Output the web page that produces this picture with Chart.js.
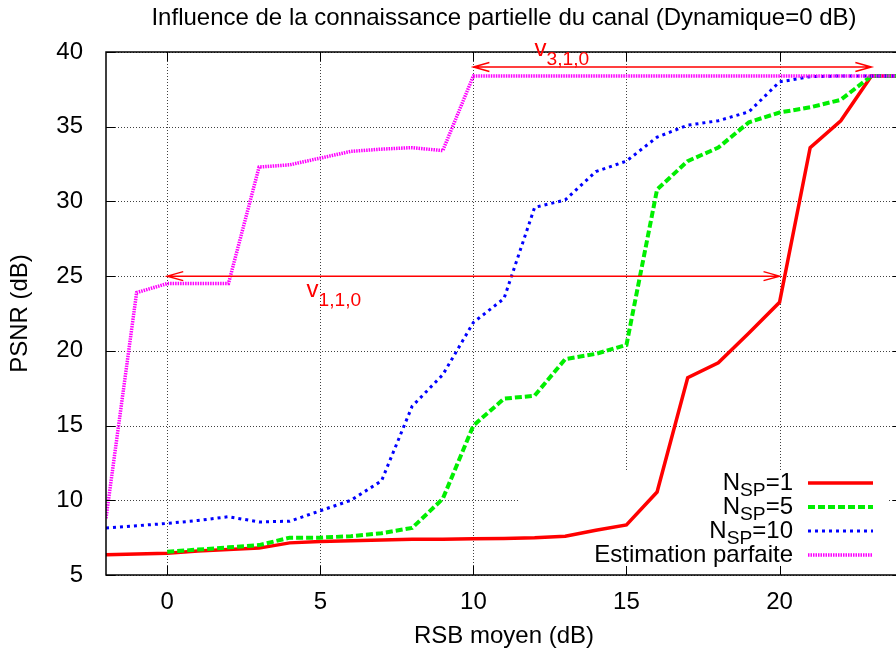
<!DOCTYPE html>
<html>
<head>
<meta charset="utf-8">
<script src="https://cdn.jsdelivr.net/npm/chart.js@4/dist/chart.umd.min.js"></script>
<style>
  html, body { margin: 0; padding: 0; background: #fff; overflow: hidden; }
  #wrap { position: absolute; left: 0; top: 0; width: 910px; height: 653px; }
</style>
</head>
<body>
<div id="wrap"><canvas id="psnrChart"></canvas></div>
<script>
// RSB moyen (dB)
const snr = [-2, -1, 0, 1, 2, 3, 4, 5, 6, 7, 8, 9, 10, 11, 12, 13, 14, 15, 16, 17, 18, 19, 20, 21, 22, 23, 24];

// PSNR (dB) per series
const psnrNsp1 = [6.35, 6.4, 6.45, 6.6, 6.7, 6.8, 7.15, 7.25, 7.3, 7.35, 7.4, 7.4, 7.42, 7.45, 7.5, 7.6, 8.0, 8.35, 10.55, 18.2, 19.2, 21.2, 23.25, 33.6, 35.4, 38.4, 38.4];
const psnrNsp5 = [null, null, 6.55, 6.7, 6.85, 7.0, 7.5, 7.5, 7.6, 7.8, 8.15, 10.1, 15.0, 16.8, 17.0, 19.45, 19.8, 20.4, 30.8, 32.7, 33.6, 35.3, 35.95, 36.3, 36.8, 38.4, 38.4];
const psnrNsp10 = [8.15, 8.3, 8.45, 8.65, 8.9, 8.55, 8.6, 9.3, 10.0, 11.3, 16.3, 18.4, 21.9, 23.5, 29.6, 30.1, 32.0, 32.7, 34.3, 35.1, 35.4, 36.0, 38.0, 38.35, 38.4, 38.4, 38.4];
const psnrPerfect = [8.8, 23.9, 24.5, 24.5, 24.5, 32.3, 32.45, 32.9, 33.35, 33.5, 33.6, 33.4, 38.4, 38.4, 38.4, 38.4, 38.4, 38.4, 38.4, 38.4, 38.4, 38.4, 38.4, 38.4, 38.4, 38.4, 38.4];

const seriesNames = ["N_{SP}=1", "N_{SP}=5", "N_{SP}=10", "Estimation parfaite"];

const xTicks = [0, 5, 10, 15, 20];
const yTicks = [5, 10, 15, 20, 25, 30, 35, 40];

// double arrows and their labels (data units)
const arrowFrom = [0, 10];
const arrowTo = [20, 23];
const arrowY = [25, 39];
const arrowLabels = ["v_{1,1,0}", "v_{3,1,0}"];
const arrowLabelX = [4.55, 12.0];
const arrowLabelY = [23.6, 39.7];

const FONT = '"Liberation Sans", Arial, Helvetica, sans-serif';
const FS = 24;

function drawRich(ctx, text, x, y, size, align, drop) {
  const m = text.match(/^(.*?)_\{(.*?)\}(.*)$/);
  const parts = m ? [[m[1], size, 0], [m[2], size * 0.8, drop], [m[3], size, 0]] : [[text, size, 0]];
  let total = 0;
  parts.forEach((p) => {
    ctx.font = p[1] + "px " + FONT;
    p.push(ctx.measureText(p[0]).width);
    total += p[3];
  });
  let cx = align === "right" ? x - total : x;
  ctx.textAlign = "left";
  ctx.textBaseline = "alphabetic";
  parts.forEach((p) => {
    ctx.font = p[1] + "px " + FONT;
    ctx.fillText(p[0], cx, y + p[2]);
    cx += p[3];
  });
}

const gnuplotDecor = {
  id: "gnuplotDecor",
  beforeDatasetsDraw(chart) {
    const { ctx, chartArea: a, scales } = chart;
    ctx.save();
    // dotted grid
    ctx.strokeStyle = "rgba(0,0,0,0.75)";
    ctx.lineWidth = 1;
    ctx.setLineDash([1, 2]);
    xTicks.forEach((v) => {
      const px = Math.round(scales.x.getPixelForValue(v)) + 0.5;
      ctx.beginPath();
      ctx.moveTo(px, a.top);
      ctx.lineTo(px, a.bottom);
      ctx.stroke();
    });
    yTicks.forEach((v) => {
      const py = Math.round(scales.y.getPixelForValue(v)) + 0.5;
      ctx.beginPath();
      ctx.moveTo(a.left, py);
      ctx.lineTo(a.right, py);
      ctx.stroke();
    });
    ctx.setLineDash([]);
    // opaque key box hides the grid only
    ctx.fillStyle = "#fff";
    ctx.fillRect(a.right - 384, a.bottom - 105, 370, 105);
    ctx.restore();
  },
  afterDatasetsDraw(chart) {
    const { ctx, chartArea: a, scales } = chart;
    ctx.save();
    // frame
    ctx.strokeStyle = "#000";
    ctx.lineWidth = 1.5;
    ctx.strokeRect(a.left, a.top, a.right - a.left, a.bottom - a.top);
    // inward ticks
    ctx.lineWidth = 1;
    ctx.beginPath();
    xTicks.forEach((v) => {
      const px = Math.round(scales.x.getPixelForValue(v)) + 0.5;
      ctx.moveTo(px, a.bottom); ctx.lineTo(px, a.bottom - 9);
      ctx.moveTo(px, a.top); ctx.lineTo(px, a.top + 9);
    });
    yTicks.forEach((v) => {
      const py = Math.round(scales.y.getPixelForValue(v)) + 0.5;
      ctx.moveTo(a.left, py); ctx.lineTo(a.left + 9, py);
      ctx.moveTo(a.right, py); ctx.lineTo(a.right - 9, py);
    });
    ctx.stroke();

    // arrows
    ctx.strokeStyle = "#ff0000";
    ctx.fillStyle = "#ff0000";
    ctx.lineWidth = 1.5;
    arrowY.forEach((yv, i) => {
      const y = scales.y.getPixelForValue(yv);
      const x1 = scales.x.getPixelForValue(arrowFrom[i]);
      const x2 = scales.x.getPixelForValue(arrowTo[i]);
      ctx.beginPath();
      ctx.moveTo(x1, y); ctx.lineTo(x2, y);
      ctx.moveTo(x1 + 16, y - 4.5); ctx.lineTo(x1, y); ctx.lineTo(x1 + 16, y + 4.5);
      ctx.moveTo(x2 - 16, y - 4.5); ctx.lineTo(x2, y); ctx.lineTo(x2 - 16, y + 4.5);
      ctx.stroke();
      drawRich(ctx, arrowLabels[i], scales.x.getPixelForValue(arrowLabelX[i]),
        scales.y.getPixelForValue(arrowLabelY[i]), FS, "left", 9);
    });

    // key
    const styles = chart.data.datasets;
    seriesNames.forEach((name, i) => {
      const y = a.bottom - 92 + i * 24;
      ctx.fillStyle = "#000";
      drawRich(ctx, name, a.right - 109, y + 7, FS, "right", 6);
      const ds = styles[i];
      ctx.strokeStyle = ds.borderColor;
      ctx.lineWidth = ds.borderWidth;
      ctx.setLineDash(ds.borderDash || []);
      ctx.beginPath();
      ctx.moveTo(a.right - 94, y);
      ctx.lineTo(a.right - 29, y);
      ctx.stroke();
      ctx.setLineDash([]);
    });
    ctx.restore();
  },
};

function series(values) {
  return values.map((v, i) => ({ x: snr[i], y: v }));
}

new Chart(document.getElementById("psnrChart"), {
  type: "line",
  data: {
    datasets: [
      {
        label: seriesNames[0],
        data: series(psnrNsp1),
        borderColor: "#ff0000",
        borderWidth: 3.5,
        order: 3,
      },
      {
        label: seriesNames[1],
        data: series(psnrNsp5),
        borderColor: "#00ee00",
        borderWidth: 4,
        borderDash: [7, 3],
        order: 2,
      },
      {
        label: seriesNames[2],
        data: series(psnrNsp10),
        borderColor: "#0000ff",
        borderWidth: 3,
        borderDash: [3, 4],
        order: 1,
      },
      {
        label: seriesNames[3],
        data: series(psnrPerfect),
        borderColor: "#ff00ff",
        borderWidth: 3.5,
        borderDash: [1.5, 1],
        order: 0,
      },
    ],
  },
  options: {
    responsive: true,
    maintainAspectRatio: false,
    animation: false,
    spanGaps: false,
    elements: {
      point: { radius: 0 },
      line: { tension: 0, borderJoinStyle: "miter", borderCapStyle: "butt" },
    },
    layout: { padding: { left: 0, right: 8, top: 0, bottom: 0 } },
    scales: {
      x: {
        type: "linear",
        min: -2,
        max: 24,
        grid: { display: false },
        border: { display: false },
        afterBuildTicks: (scale) => {
          scale.ticks = xTicks.map((v) => ({ value: v }));
        },
        afterFit: (scale) => {
          scale.height = 78;
        },
        ticks: {
          color: "#000",
          padding: 5,
          maxRotation: 0,
          font: { family: FONT, size: FS },
        },
        title: {
          display: true,
          text: "RSB moyen (dB)",
          color: "#000",
          font: { family: FONT, size: FS },
          padding: { top: 2, bottom: 2 },
        },
      },
      y: {
        type: "linear",
        min: 5,
        max: 40,
        grid: { display: false },
        border: { display: false },
        afterBuildTicks: (scale) => {
          scale.ticks = yTicks.map((v) => ({ value: v }));
        },
        afterFit: (scale) => {
          scale.width = 106;
        },
        ticks: {
          color: "#000",
          padding: 15,
          font: { family: FONT, size: FS },
        },
        title: {
          display: true,
          text: "PSNR (dB)",
          color: "#000",
          font: { family: FONT, size: FS },
          padding: { top: 6, bottom: 2 },
        },
      },
    },
    plugins: {
      legend: { display: false },
      tooltip: { enabled: false },
      title: {
        display: true,
        fullSize: false,
        text: "Influence de la connaissance partielle du canal (Dynamique=0 dB)",
        color: "#000",
        font: { family: FONT, size: FS, weight: "normal" },
        padding: { top: 4, bottom: 19.2 },
      },
    },
  },
  plugins: [gnuplotDecor],
});
</script>
</body>
</html>
